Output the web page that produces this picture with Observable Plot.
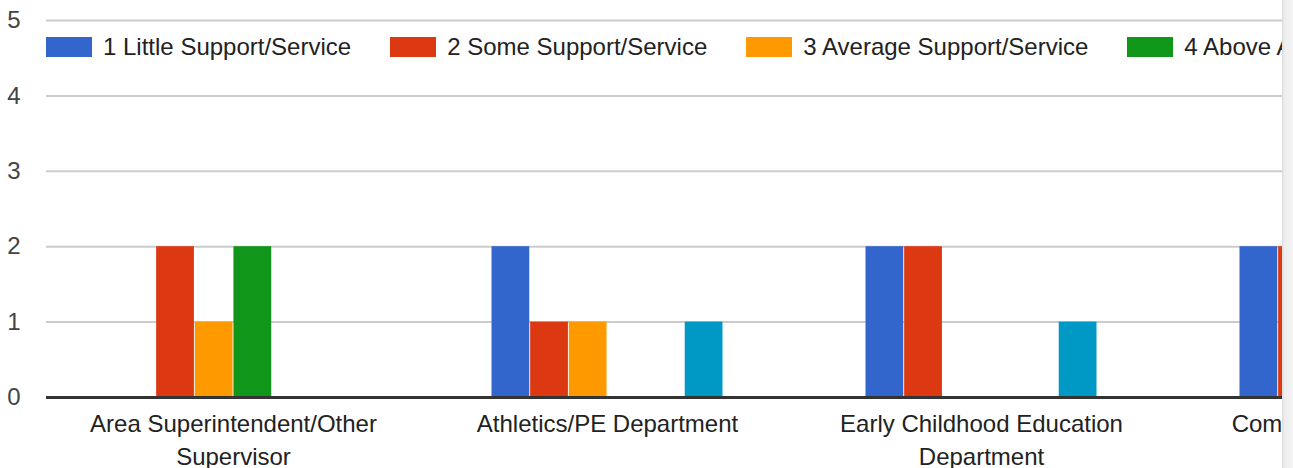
<!DOCTYPE html>
<html><head><meta charset="utf-8">
<script src="https://cdn.jsdelivr.net/npm/d3@7"></script>
<script src="https://cdn.jsdelivr.net/npm/@observablehq/plot@0.6"></script>
<style>
body{margin:0;background:#fff;font-family:Arial,"Liberation Sans",sans-serif;}
#wrap{position:relative;width:1282px;height:468px;overflow:hidden;}
#chart{width:1542px;}
#legend{position:absolute;left:46px;top:37px;display:flex;white-space:nowrap;font-size:24px;color:#222;line-height:20px;}
.item{display:flex;align-items:center;margin-right:39px;}
.sw{width:46px;height:20px;margin-right:11px;flex:none;}
#edge{position:absolute;left:1282px;top:0;width:11px;height:468px;background:linear-gradient(to right,#dcdcdc,#eeeeee 25%,#f4f4f4);}
</style></head>
<body>
<div id="wrap"><div id="chart"></div><div id="legend"></div></div><div id="edge"></div>
<script>
const categories = ["Area Superintendent/Other Supervisor", "Athletics/PE Department", "Early Childhood Education Department", "Communications Office"];
const tickLabels = ["Area Superintendent/Other\nSupervisor", "Athletics/PE Department", "Early Childhood Education\nDepartment", "Communications Office"];
const seriesNames = ["1 Little Support/Service", "2 Some Support/Service", "3 Average Support/Service", "4 Above Average Support/Service", "5 Excellent Support/Service", "Not Applicable"];
const seriesColors = ["#3366cc", "#dc3912", "#ff9900", "#109618", "#990099", "#0099c6"];
const little   = [0, 2, 2, 2];
const some     = [2, 1, 2, 2];
const average  = [1, 1, 0, 0];
const above    = [2, 0, 0, 0];
const excellent= [0, 0, 0, 0];
const notApp   = [0, 1, 1, 1];
const yTicks = [0, 1, 2, 3, 4, 5];

const seriesValues = [little, some, average, above, excellent, notApp];
const table = [];
categories.forEach((c, i) => seriesNames.forEach((s, j) => table.push({category: c, series: s, value: seriesValues[j][i]})));

const bandPadInner = 0.38;
const step = 374;
const slot = step * (1 - bandPadInner) / seriesNames.length;

const chart = Plot.plot({
  width: 1542, height: 468,
  marginLeft: 46, marginRight: 0, marginTop: 20, marginBottom: 71,
  style: {fontFamily: "Arial, 'Liberation Sans', sans-serif", fontSize: "24px", background: "#fff", maxWidth: "none"},
  x: {type: "band", domain: categories, paddingInner: bandPadInner, paddingOuter: bandPadInner / 2, label: null},
  y: {domain: [0, 5], label: null},
  marks: [
    Plot.ruleY(yTicks.filter(t => t > 0), {stroke: "#cccccc", strokeWidth: 2}),
    ...seriesNames.map((s, j) => Plot.barY(table.filter(d => d.series === s && d.value > 0), {
      x: "category", y: "value", fill: seriesColors[j],
      insetLeft: j * slot + 0.5, insetRight: (seriesNames.length - 1 - j) * slot + 0.5
    })),
    Plot.ruleY([0], {stroke: "#333333", strokeWidth: 3}),
    Plot.axisY({ticks: yTicks, tickSize: 0, tickPadding: 26, fontSize: 24, fill: "#444", tickFormat: d => String(d)}),
    Plot.axisX({tickSize: 0, tickPadding: 11, fontSize: 24, fill: "#222", lineHeight: 1.375,
      tickFormat: d => tickLabels[categories.indexOf(d)]})
  ]
});
document.getElementById("chart").appendChild(chart);

const legend = document.getElementById("legend");
seriesNames.forEach((s, j) => {
  const item = document.createElement("div");
  item.className = "item";
  const sw = document.createElement("div");
  sw.className = "sw";
  sw.style.background = seriesColors[j];
  const label = document.createElement("span");
  label.textContent = s;
  item.appendChild(sw);
  item.appendChild(label);
  legend.appendChild(item);
});
</script>
</body></html>
